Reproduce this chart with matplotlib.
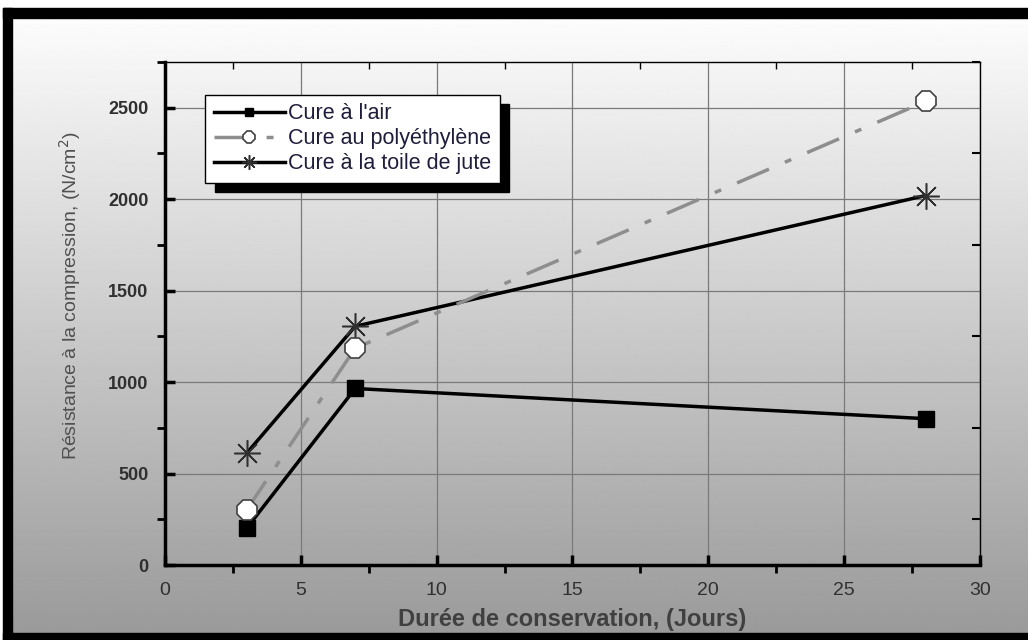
import numpy as np
import matplotlib
matplotlib.use('Agg')
import matplotlib.pyplot as plt
from matplotlib.patches import Rectangle

# Données
jours = [3, 7, 28]
air = [200, 965, 800]
polyethylene = [300, 1185, 2535]
jute = [610, 1305, 2020]

labels = ["Cure à l'air", "Cure au polyéthylène", "Cure à la toile de jute"]

plt.rcParams['font.family'] = ['Liberation Sans', 'DejaVu Sans']

fig = plt.figure(figsize=(10.28, 6.4), dpi=100)

# fond dégradé + cadre noir
bg = fig.add_axes([0, 0, 1, 1], zorder=-10)
grad = np.linspace(1.0, 0.6, 256).reshape(-1, 1)
bg.imshow(grad, cmap='gray', vmin=0, vmax=1, aspect='auto',
          extent=[0, 1, 0, 1], origin='upper')
bg.set_xlim(0, 1)
bg.set_ylim(0, 1)
bg.add_patch(Rectangle((0, 1 - 8 / 640), 1, 8 / 640, color='white'))
bg.add_patch(Rectangle((0, 0), 3 / 1028, 1, color='white'))
bg.add_patch(Rectangle((3 / 1028, 1 - 18 / 640), 1, 10 / 640, color='black'))
bg.add_patch(Rectangle((3 / 1028, 0), 9 / 1028, 1 - 8 / 640, color='black'))
bg.add_patch(Rectangle((3 / 1028, 0), 1, 7 / 640, color='black'))
bg.axis('off')

ax = fig.add_axes([165 / 1028, 75 / 640, 815 / 1028, 503 / 640])
ax.set_facecolor('none')

ax.plot(jours, air, color='black', lw=2.5, marker='s', ms=11,
        mfc='black', mec='black', label=labels[0], zorder=3)
ax.plot(jours, polyethylene, color='#8e8e8e', lw=2.5, ls='-.',
        dashes=(10, 5, 2, 5), marker='8', ms=16, mfc='white',
        mec='#404040', mew=1.2, label=labels[1], zorder=4)
ax.plot(jours, jute, color='black', lw=2.5, marker=(8, 2, 0), ms=19,
        mec='#303030', mew=1.1, label=labels[2], zorder=3)

ax.set_xlim(0, 30)
ax.set_ylim(0, 2750)
ax.set_xticks(range(0, 31, 5))
ax.set_yticks(range(0, 2501, 500))
ax.set_xticks(np.arange(2.5, 30, 5), minor=True)
ax.set_yticks(range(250, 2751, 500), minor=True)
ax.grid(True, which='major', color='#7a7a7a', lw=0.9)

ax.spines['left'].set_linewidth(2.5)
ax.spines['bottom'].set_linewidth(2.5)
ax.spines['top'].set_linewidth(1)
ax.spines['right'].set_linewidth(1)

ax.tick_params(which='major', direction='in', length=7, width=2.5,
               colors='black', pad=12)
ax.tick_params(which='minor', direction='out', length=6, width=2)
for t in ax.get_yticklabels():
    t.set_fontweight('bold')
    t.set_fontsize(13)
    t.set_color('#303030')
for t in ax.get_xticklabels():
    t.set_fontsize(14)
    t.set_color('#303030')

top = ax.secondary_xaxis('top')
top.set_xticks(np.arange(2.5, 30, 5))
top.tick_params(direction='in', length=5, width=1, labeltop=False)
top.spines['top'].set_visible(False)
right = ax.secondary_yaxis('right')
right.set_yticks(range(250, 2751, 500))
right.tick_params(direction='in', length=6, width=1.5, labelright=False)
right.spines['right'].set_visible(False)

ax.set_xlabel('Durée de conservation, (Jours)', fontsize=17,
              fontweight='bold', color='#404040')
ax.xaxis.set_label_coords(0.5, -0.086)
ax.set_ylabel('Résistance à la compression, (N/cm$^2$)', fontsize=14,
              color='#505050')
ax.yaxis.set_label_coords(-0.1, 0.535)

leg = ax.legend(loc='upper left', bbox_to_anchor=(0.049, 0.935),
                frameon=True, fancybox=False, edgecolor='black',
                framealpha=1, handlelength=3.3, fontsize=15.5,
                borderpad=0.4, labelspacing=0.18, handletextpad=0.15,
                shadow={'ox': 7, 'oy': -7, 'color': 'black', 'alpha': 1},
                markerscale=0.55, borderaxespad=0)
leg.get_frame().set_linewidth(1)
for t in leg.get_texts():
    t.set_color('#1e1e3c')

fig.savefig('out.png', dpi=100)
